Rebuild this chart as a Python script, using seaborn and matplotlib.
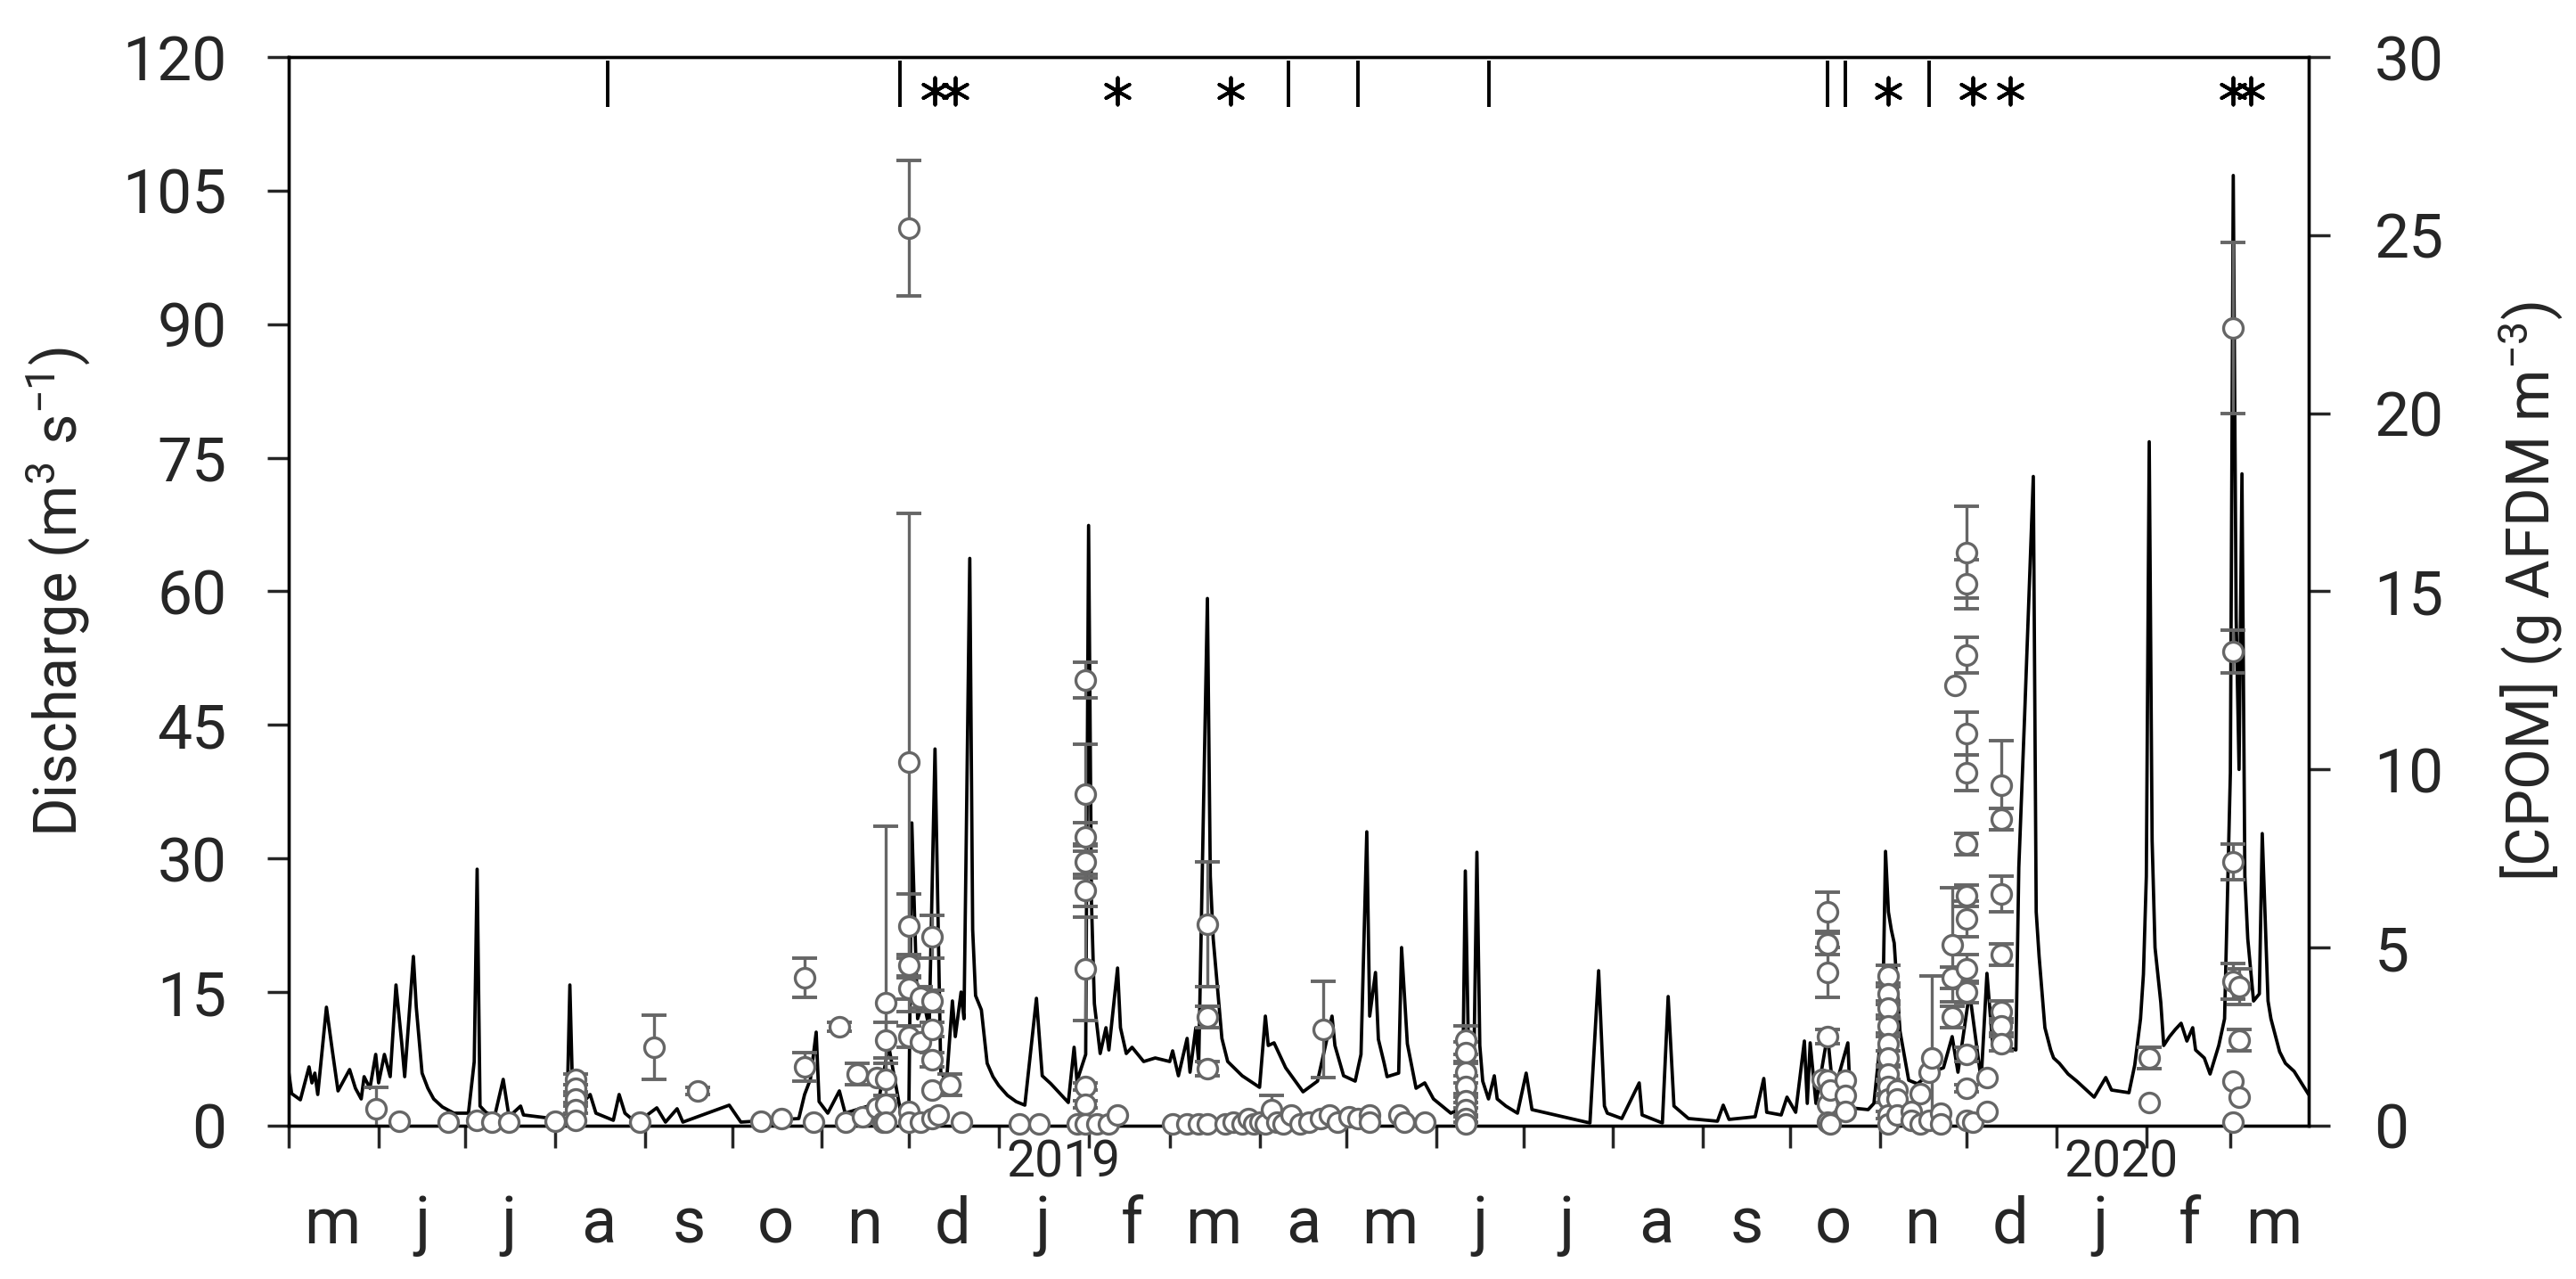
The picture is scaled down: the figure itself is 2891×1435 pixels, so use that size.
import matplotlib
matplotlib.use('Agg')
import matplotlib.pyplot as plt
import matplotlib.dates as mdates
import matplotlib.transforms as mtransforms
import matplotlib.ticker as mticker
import numpy as np
import pandas as pd
import seaborn as sns

# discharge hydrograph (m3 s-1), vertices
q_dates = [
    '2018-05-01', '2018-05-02', '2018-05-05', '2018-05-08', '2018-05-09', '2018-05-10', '2018-05-11',
    '2018-05-14', '2018-05-16', '2018-05-18', '2018-05-22', '2018-05-24', '2018-05-26', '2018-05-27',
    '2018-05-29', '2018-05-31', '2018-06-01', '2018-06-03', '2018-06-05', '2018-06-07', '2018-06-09',
    '2018-06-10', '2018-06-13', '2018-06-14', '2018-06-16', '2018-06-20', '2018-06-27', '2018-07-02',
    '2018-07-04', '2018-07-05', '2018-07-06', '2018-07-11', '2018-07-14', '2018-07-16', '2018-07-20',
    '2018-07-21', '2018-07-31', '2018-08-05', '2018-08-06', '2018-08-07', '2018-08-13', '2018-08-15',
    '2018-08-21', '2018-08-23', '2018-08-25', '2018-08-29', '2018-09-05', '2018-09-08', '2018-09-12',
    '2018-09-14', '2018-09-30', '2018-10-04', '2018-10-24', '2018-10-26', '2018-10-28', '2018-10-30',
    '2018-10-31', '2018-11-03', '2018-11-07', '2018-11-09', '2018-11-13', '2018-11-17', '2018-11-20',
    '2018-11-24', '2018-11-28', '2018-12-01', '2018-12-02', '2018-12-04', '2018-12-06', '2018-12-08',
    '2018-12-10', '2018-12-12', '2018-12-14', '2018-12-16', '2018-12-17', '2018-12-19', '2018-12-20',
    '2018-12-22', '2018-12-24', '2018-12-26', '2018-12-28', '2019-01-01', '2019-01-07', '2019-01-10',
    '2019-01-14', '2019-01-16', '2019-01-19', '2019-01-25', '2019-01-27', '2019-01-28', '2019-01-31',
    '2019-02-01', '2019-02-02', '2019-02-03', '2019-02-05', '2019-02-07', '2019-02-08', '2019-02-11',
    '2019-02-12', '2019-02-14', '2019-02-16', '2019-02-20', '2019-02-24', '2019-03-01', '2019-03-02',
    '2019-03-04', '2019-03-07', '2019-03-08', '2019-03-10', '2019-03-11', '2019-03-14', '2019-03-15',
    '2019-03-17', '2019-03-19', '2019-03-21', '2019-03-26', '2019-04-01', '2019-04-03', '2019-04-04',
    '2019-04-06', '2019-04-10', '2019-04-16', '2019-04-21', '2019-04-26', '2019-04-27', '2019-04-30',
    '2019-05-04', '2019-05-06', '2019-05-08', '2019-05-09', '2019-05-11', '2019-05-12', '2019-05-15',
    '2019-05-19', '2019-05-20', '2019-05-22', '2019-05-25', '2019-05-28', '2019-05-31', '2019-06-06',
    '2019-06-10', '2019-06-11', '2019-06-12', '2019-06-13', '2019-06-14', '2019-06-15', '2019-06-17',
    '2019-06-19', '2019-06-21', '2019-06-22', '2019-06-25', '2019-06-29', '2019-07-02', '2019-07-04',
    '2019-07-12', '2019-07-24', '2019-07-27', '2019-07-29', '2019-08-04', '2019-08-10', '2019-08-11',
    '2019-08-18', '2019-08-20', '2019-08-22', '2019-08-27', '2019-09-06', '2019-09-08', '2019-09-10',
    '2019-09-19', '2019-09-22', '2019-09-23', '2019-09-28', '2019-09-30', '2019-10-03', '2019-10-06',
    '2019-10-07', '2019-10-08', '2019-10-10', '2019-10-14', '2019-10-16', '2019-10-21', '2019-10-22',
    '2019-10-28', '2019-10-30', '2019-11-02', '2019-11-03', '2019-11-04', '2019-11-06', '2019-11-08',
    '2019-11-11', '2019-11-14', '2019-11-19', '2019-11-23', '2019-11-26', '2019-11-28', '2019-12-02',
    '2019-12-06', '2019-12-08', '2019-12-10', '2019-12-14', '2019-12-18', '2019-12-19', '2019-12-21',
    '2019-12-24', '2019-12-25', '2019-12-26', '2019-12-27', '2019-12-28', '2019-12-30', '2020-01-02',
    '2020-01-08', '2020-01-14', '2020-01-18', '2020-01-20', '2020-01-26', '2020-01-28', '2020-01-30',
    '2020-01-31', '2020-02-01', '2020-02-02', '2020-02-03', '2020-02-04', '2020-02-06', '2020-02-07',
    '2020-02-09', '2020-02-11', '2020-02-13', '2020-02-15', '2020-02-17', '2020-02-18', '2020-02-21',
    '2020-02-23', '2020-02-26', '2020-02-28', '2020-03-01', '2020-03-02', '2020-03-03', '2020-03-04',
    '2020-03-05', '2020-03-06', '2020-03-07', '2020-03-09', '2020-03-11', '2020-03-12', '2020-03-14',
    '2020-03-15', '2020-03-18', '2020-03-23', '2020-03-28',
]
q_values = [
    6.0, 3.6, 2.9, 6.6, 4.8, 5.9, 3.5,
    13.3, 8.5, 3.9, 6.3, 4.2, 3.0, 5.5,
    4.2, 8.0, 4.8, 8.0, 5.5, 15.8, 9.2,
    5.5, 19.0, 13.3, 5.9, 3.0, 1.4, 1.4,
    7.2, 28.8, 2.2, 1.0, 5.2, 1.0, 2.2,
    1.2, 0.8, 1.4, 15.8, 3.0, 3.5, 1.4,
    0.6, 3.5, 1.4, 0.3, 2.0, 0.4, 1.9,
    0.4, 2.3, 0.4, 0.8, 3.5, 5.2, 10.5,
    2.7, 1.4, 3.9, 1.4, 1.8, 2.2, 1.8,
    9.0, 1.8, 2.2, 34.0, 12.0, 14.0, 11.0,
    42.3, 6.0, 5.0, 14.0, 10.0, 15.0, 12.0,
    63.7, 14.6, 13.0, 7.0, 4.5, 2.7, 2.3,
    14.3, 5.6, 4.7, 2.6, 8.8, 5.0, 8.0,
    67.4, 25.0, 13.7, 8.1, 11.0, 8.5, 17.7,
    11.0, 8.1, 8.8, 7.2, 7.6, 7.2, 8.4,
    5.6, 9.8, 6.0, 11.0, 7.0, 59.2, 28.0,
    17.3, 9.8, 7.2, 5.6, 4.3, 12.3, 9.0,
    9.3, 6.5, 3.8, 5.0, 12.3, 9.0, 5.6,
    5.0, 8.0, 33.0, 12.3, 17.2, 9.7, 5.5,
    5.9, 20.0, 9.2, 4.2, 4.8, 3.0, 1.4,
    2.0, 28.6, 10.0, 6.0, 8.0, 30.7, 5.0,
    3.0, 5.6, 3.0, 2.2, 1.4, 5.9, 1.8,
    1.2, 0.3, 17.4, 2.2, 0.8, 4.8, 1.2,
    0.3, 14.5, 2.2, 0.8, 0.5, 2.3, 0.7,
    1.0, 5.3, 1.5, 1.2, 3.2, 1.5, 9.5,
    2.5, 9.3, 2.5, 10.2, 3.5, 9.3, 2.0,
    1.8, 2.5, 12.0, 30.8, 24.0, 20.5, 10.6,
    5.1, 4.7, 6.0, 6.5, 10.0, 6.0, 15.0,
    5.1, 17.1, 9.0, 8.9, 8.5, 29.0, 46.0,
    72.9, 24.0, 19.0, 15.0, 11.0, 8.5, 7.0,
    5.0, 3.2, 5.4, 4.0, 3.7, 6.8, 12.0,
    17.0, 28.0, 76.8, 32.0, 20.0, 13.8, 9.0,
    10.0, 10.8, 11.5, 9.5, 11.0, 8.5, 7.6,
    5.8, 9.0, 12.0, 39.6, 106.7, 57.0, 40.0,
    73.2, 28.0, 21.0, 14.0, 14.8, 32.8, 14.0,
    12.0, 8.3, 6.1, 3.5,
]
# extra vertices on the falling limbs (recession curves)
q_recess_dates = ['2018-06-18', '2018-06-23', '2018-07-08', '2018-08-09', '2018-12-23', '2018-12-30',
                  '2019-01-04', '2019-03-16', '2019-05-14', '2019-06-16', '2019-07-30', '2019-11-05',
                  '2019-12-31', '2020-01-05', '2020-03-20']
q_recess_values = [4.2, 2.1, 1.5, 2.0, 22.0, 5.5,
                   3.4, 21.0, 7.0, 9.0, 1.4, 22.0,
                   7.6, 5.8, 7.0]

# CPOM concentration (g AFDM m-3) with error (0 = no bar drawn)
c_dates = (
    ['2018-05-31', '2018-06-08', '2018-06-25', '2018-07-05', '2018-07-10', '2018-07-16', '2018-08-01']
    + ['2018-08-08'] * 5
    + ['2018-08-30', '2018-09-04', '2018-09-19', '2018-10-11', '2018-10-18', '2018-10-26', '2018-10-26',
       '2018-10-29', '2018-11-07', '2018-11-09', '2018-11-13', '2018-11-15', '2018-11-20', '2018-11-20',
       '2018-11-22']
    + ['2018-11-23'] * 5
    + ['2018-12-01'] * 8
    + ['2018-12-05'] * 3
    + ['2018-12-09'] * 6
    + ['2018-12-11', '2018-12-15', '2018-12-19', '2019-01-08', '2019-01-15', '2019-01-28']
    + ['2019-01-31'] * 9
    + ['2019-02-04', '2019-02-08', '2019-02-11', '2019-03-02', '2019-03-07', '2019-03-11']
    + ['2019-03-14'] * 4
    + ['2019-03-20', '2019-03-23', '2019-03-26', '2019-03-28', '2019-03-30', '2019-04-01', '2019-04-03',
       '2019-04-05', '2019-04-07', '2019-04-09', '2019-04-12', '2019-04-15', '2019-04-18', '2019-04-22',
       '2019-04-23', '2019-04-25', '2019-04-28', '2019-05-02', '2019-05-05', '2019-05-09', '2019-05-09',
       '2019-05-19', '2019-05-21', '2019-05-28']
    + ['2019-06-11'] * 8
    + ['2019-10-12']
    + ['2019-10-14'] * 7
    + ['2019-10-15', '2019-10-15']
    + ['2019-10-20'] * 3
    + ['2019-11-04'] * 11
    + ['2019-11-07'] * 3
    + ['2019-11-12', '2019-11-12', '2019-11-15', '2019-11-15', '2019-11-18', '2019-11-18', '2019-11-19',
       '2019-11-22', '2019-11-22']
    + ['2019-11-26'] * 3
    + ['2019-11-27']
    + ['2019-12-01'] * 13
    + ['2019-12-03', '2019-12-08', '2019-12-08']
    + ['2019-12-13'] * 7
    + ['2020-02-02', '2020-02-02']
    + ['2020-03-02'] * 6
    + ['2020-03-04'] * 3
)
c_values = (
    [0.47, 0.12, 0.10, 0.15, 0.10, 0.10, 0.12]
    + [1.30, 1.05, 0.75, 0.45, 0.15]
    + [0.10, 2.20, 0.98, 0.12, 0.20, 4.15, 1.65,
       0.10, 2.77, 0.10, 1.45, 0.25, 1.35, 0.50,
       0.10]
    + [3.45, 2.40, 1.30, 0.60, 0.10]
    + [25.2, 10.2, 5.6, 4.5, 3.85, 2.5, 0.4, 0.1]
    + [3.6, 2.35, 0.1]
    + [5.3, 3.5, 2.7, 1.85, 1.0, 0.2]
    + [0.3, 1.15, 0.1, 0.05, 0.05, 0.05]
    + [12.5, 9.3, 8.1, 7.4, 6.6, 4.4, 1.1, 0.6, 0.05]
    + [0.05, 0.05, 0.3, 0.05, 0.05, 0.05]
    + [5.65, 3.05, 1.6, 0.05]
    + [0.05, 0.1, 0.05, 0.2, 0.05, 0.1, 0.05,
       0.45, 0.1, 0.05, 0.3, 0.05, 0.1, 0.2,
       2.7, 0.3, 0.1, 0.25, 0.2, 0.3, 0.1,
       0.3, 0.1, 0.1]
    + [2.4, 2.05, 1.5, 1.1, 0.7, 0.45, 0.2, 0.05]
    + [1.3]
    + [6.0, 5.1, 4.3, 2.5, 1.27, 0.6, 0.1]
    + [1.0, 0.05]
    + [1.27, 0.85, 0.4]
    + [4.2, 3.7, 3.3, 2.8, 2.3, 1.9, 1.45, 1.1, 0.75, 0.3, 0.05]
    + [1.0, 0.76, 0.3]
    + [0.4, 0.15, 0.9, 0.05, 1.5, 0.15, 1.9,
       0.35, 0.05]
    + [5.07, 4.15, 3.05]
    + [12.35]
    + [16.1, 15.2, 13.2, 11.0, 9.9, 7.9, 6.45, 5.8, 4.4, 3.75, 2.0, 1.05, 0.15]
    + [0.1, 1.35, 0.4]
    + [9.55, 8.6, 6.5, 4.8, 3.2, 2.8, 2.3]
    + [1.9, 0.65]
    + [22.4, 13.3, 7.4, 4.05, 1.25, 0.1]
    + [3.9, 2.4, 0.8]
)
c_errors = (
    [0.6, 0, 0, 0, 0, 0, 0]
    + [0.15, 0.1, 0.1, 0.1, 0]
    + [0, 0.9, 0.1, 0, 0, 0.55, 0.4,
       0, 0.12, 0, 0.3, 0, 0, 0,
       0]
    + [4.95, 0.5, 0.45, 0, 0]
    + [1.9, 7.0, 0.9, 0.3, 0.3, 0.3, 0, 0]
    + [0.3, 0, 0]
    + [0.6, 0.3, 0.2, 0.2, 0, 0]
    + [0, 0.3, 0, 0, 0, 0]
    + [0.5, 1.4, 0.4, 0.45, 0.45, 1.45, 0.1, 0.1, 0]
    + [0, 0, 0, 0, 0, 0]
    + [1.75, 0.3, 0.2, 0]
    + [0, 0, 0, 0, 0, 0, 0,
       0.4, 0, 0, 0, 0, 0, 0,
       1.35, 0, 0, 0, 0, 0, 0,
       0, 0, 0]
    + [0.4, 0.3, 0.3, 0.3, 0.2, 0.2, 0.1, 0]
    + [0]
    + [0.55, 0.3, 0.7, 0.2, 0.1, 0, 0]
    + [0, 0]
    + [0, 0, 0]
    + [0.3, 0.3, 0.2, 0.2, 0.2, 0.2, 0.2, 0.2, 0.1, 0.1, 0]
    + [0, 0, 0]
    + [0, 0, 0, 0, 0, 0, 2.3,
       0, 0]
    + [1.6, 0.3, 0.3]
    + [0]
    + [1.3, 0.7, 0.5, 0.6, 0.5, 0.3, 0.3, 0.5, 0.4, 0.3, 0.2, 0.1, 0]
    + [0, 0, 0]
    + [1.25, 0.3, 0.5, 0.3, 0.3, 0.2, 0.2]
    + [0.3, 0]
    + [2.4, 0.6, 0.5, 0.5, 0, 0]
    + [0.5, 0.3, 0]
)

# sampling marks along the top of the plot
bar_dates = ['2018-08-19', '2018-11-28', '2019-04-11', '2019-05-05', '2019-06-19',
             '2019-10-14', '2019-10-20', '2019-11-18']
star_dates = ['2018-12-10', '2018-12-17', '2019-02-11', '2019-03-22', '2019-11-04',
              '2019-12-03', '2019-12-16', '2020-03-02', '2020-03-08']
year_starts = ['2019-01-01', '2020-01-01']
year_labels = ['2019', '2020']

x_start, x_end = '2018-05-01', '2020-03-28'

GREY = '#666666'

sns.set_style('white')
plt.rcParams['font.family'] = ['Roboto', 'DejaVu Sans']
plt.rcParams['mathtext.fontset'] = 'custom'
plt.rcParams['mathtext.rm'] = 'Roboto'
plt.rcParams['mathtext.default'] = 'regular'

fig = plt.figure(figsize=(28.91, 14.35), dpi=100)
ax = fig.add_subplot(111)
fig.subplots_adjust(left=0.1121, right=0.8962, top=0.9554, bottom=0.1199)

qdf = pd.DataFrame({'date': pd.to_datetime(q_dates + q_recess_dates),
                    'q': q_values + q_recess_values}).sort_values('date')
sns.lineplot(data=qdf, x='date', y='q', ax=ax, color='black', linewidth=2.7, estimator=None)

ax2 = ax.twinx()
cdf = pd.DataFrame({'date': pd.to_datetime(c_dates), 'c': c_values, 'err': c_errors})
withbar = cdf[cdf['err'] > 0]
ax2.errorbar(withbar['date'], withbar['c'], yerr=withbar['err'], fmt='none', ecolor=GREY,
             elinewidth=2.4, capsize=10, capthick=2.8, zorder=2)
sns.scatterplot(data=cdf, x='date', y='c', ax=ax2, marker='o', s=250, color='white',
                edgecolor=GREY, linewidth=2.4, zorder=3, clip_on=False)

# top marks
xtrans = ax.get_xaxis_transform()
ax.vlines(pd.to_datetime(bar_dates), 0.953, 0.997, transform=xtrans, colors='black', lw=2.8)
ax.scatter(pd.to_datetime(star_dates), np.full(len(star_dates), 0.968), transform=xtrans,
           marker=(6, 2, 0), s=470, color='black', linewidths=2.8, clip_on=False, zorder=5)

ax.set_xlim(pd.Timestamp(x_start), pd.Timestamp(x_end))
ax.set_ylim(0, 120)
ax2.set_ylim(0, 30)
ax.set_yticks(np.arange(0, 121, 15))
ax2.set_yticks(np.arange(0, 31, 5))

ax.xaxis.set_major_locator(mdates.MonthLocator())
ax.xaxis.set_major_formatter(mticker.NullFormatter())
ax.xaxis.set_minor_locator(mdates.MonthLocator(bymonthday=16))
ax.xaxis.set_minor_formatter(mticker.FuncFormatter(
    lambda v, pos: mdates.num2date(v).strftime('%b')[0].lower()))

ax.tick_params(axis='x', which='major', direction='out', length=18, width=2.5, bottom=True)
ax.tick_params(axis='x', which='minor', length=0, labelsize=52, pad=56, bottom=True)
ax.tick_params(axis='y', which='major', direction='out', length=17, width=2.5,
               labelsize=50, pad=33, left=True)
ax2.tick_params(axis='y', which='major', direction='out', length=17, width=2.5,
                labelsize=50, pad=36, right=True)

year_trans = mtransforms.offset_copy(xtrans, fig=fig, x=8, y=0, units='dots')
for d, lab in zip(year_starts, year_labels):
    ax.text(mdates.date2num(pd.Timestamp(d)), -0.035, lab, transform=year_trans,
            ha='left', va='center', fontsize=41)

ax.set_xlabel('')
ax2.set_xlabel('')
ax.set_ylabel('Discharge (m$^{3}$ s$^{-1}$)', fontsize=48)
ax2.set_ylabel('[CPOM] (g AFDM m$^{-3}$)', fontsize=48)
ax.yaxis.set_label_coords(-0.097, 0.5)
ax2.yaxis.set_label_coords(1.093, 0.5)

for a in (ax, ax2):
    for sp in a.spines.values():
        sp.set_linewidth(2.4)
        sp.set_color('black')
ax.grid(False)
ax2.grid(False)

fig.savefig('out.png', dpi=100)
